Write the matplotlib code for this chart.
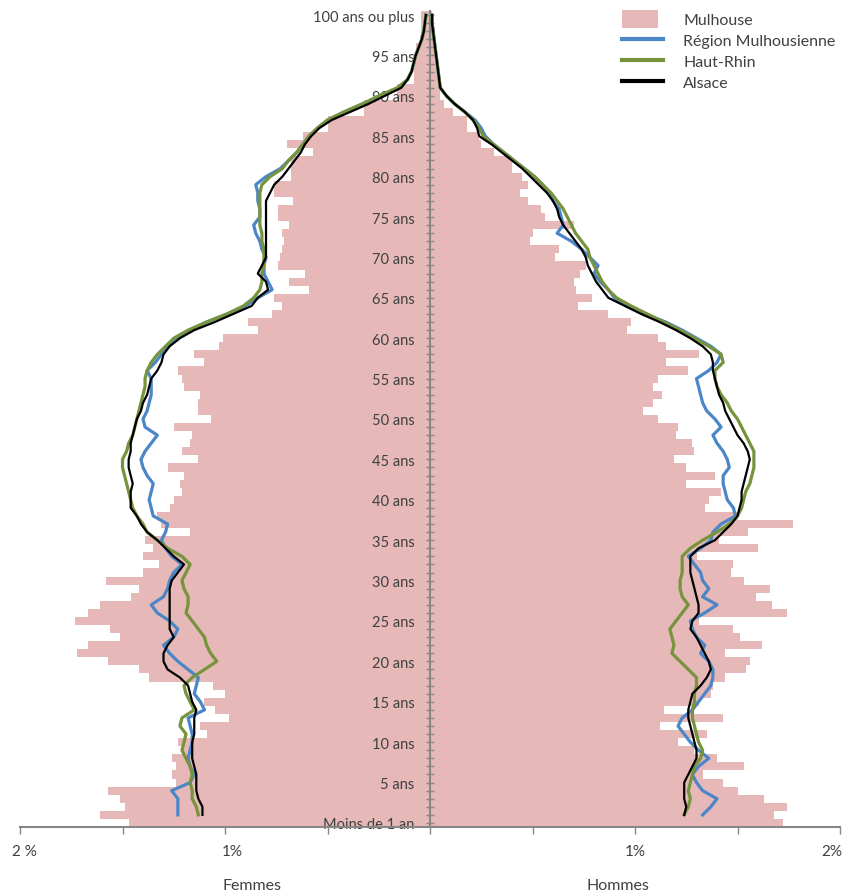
import matplotlib
matplotlib.use("Agg")
import matplotlib.pyplot as plt
from matplotlib.patches import Patch, Rectangle
from matplotlib.lines import Line2D
from matplotlib.legend_handler import HandlerPatch
import numpy as np

# ---------------- data (percent of population by single year of age) ----------------
ages_bars = list(range(0, 101))          # 0 .. 100 (100 = "100 ans ou plus")
ages_lines = list(range(1, 101))         # lines drawn for ages 1 .. 100

# Mulhouse - women (bars, ages 0..100)
mulhouse_f = [1.47, 1.61, 1.49, 1.51, 1.57, 1.24, 1.26, 1.24, 1.26, 1.21,
              1.23, 1.09, 1.12, 0.98, 1.05, 1.10, 1.00, 1.06, 1.37, 1.42,
              1.57, 1.72, 1.67, 1.51, 1.56, 1.73, 1.67, 1.61, 1.46, 1.42,
              1.58, 1.40, 1.32, 1.40, 1.35, 1.39, 1.17, 1.31, 1.33, 1.27,
              1.25, 1.21, 1.22, 1.20, 1.28, 1.13, 1.21, 1.17, 1.16, 1.25,
              1.07, 1.13, 1.13, 1.12, 1.20, 1.21, 1.23, 1.10, 1.15, 1.03,
              1.01, 0.84, 0.89, 0.77, 0.72, 0.76, 0.59, 0.69, 0.61, 0.74,
              0.73, 0.72, 0.71, 0.72, 0.69, 0.74, 0.74, 0.67, 0.76, 0.76,
              0.68, 0.68, 0.68, 0.57, 0.70, 0.62, 0.50, 0.50, 0.32, 0.32,
              0.16, 0.16, 0.08, 0.08, 0.075, 0.075, 0.07, 0.05, 0.045, 0.045,
              0.045]

# Mulhouse - men (bars, ages 0..100)
mulhouse_h = [1.72, 1.68, 1.74, 1.63, 1.50, 1.43, 1.33, 1.53, 1.40, 1.29,
              1.21, 1.35, 1.12, 1.43, 1.14, 1.31, 1.37, 1.38, 1.44, 1.54,
              1.56, 1.44, 1.62, 1.51, 1.48, 1.31, 1.74, 1.67, 1.59, 1.66,
              1.53, 1.47, 1.48, 1.30, 1.60, 1.41, 1.55, 1.77, 1.50, 1.34,
              1.36, 1.42, 1.25, 1.39, 1.25, 1.19, 1.29, 1.28, 1.20, 1.21,
              1.11, 1.04, 1.09, 1.13, 1.09, 1.11, 1.26, 1.15, 1.31, 1.15,
              1.11, 0.96, 0.98, 0.87, 0.72, 0.79, 0.71, 0.70, 0.73, 0.76,
              0.61, 0.63, 0.49, 0.50, 0.70, 0.56, 0.54, 0.48, 0.44, 0.48,
              0.45, 0.40, 0.40, 0.31, 0.25, 0.24, 0.18, 0.18, 0.11, 0.07,
              0.05, 0.05, 0.05, 0.035, 0.035, 0.03, 0.03, 0.025, 0.025, 0.02,
              0.01]

# Région Mulhousienne (lines, ages 1..100)
region_f = [1.23, 1.23, 1.23, 1.26, 1.17, 1.15, 1.17, 1.18, 1.17, 1.16,
            1.16, 1.17, 1.18, 1.10, 1.12, 1.15, 1.14, 1.13, 1.18, 1.23,
            1.27, 1.30, 1.25, 1.23, 1.27, 1.33, 1.36, 1.30, 1.28, 1.27,
            1.25, 1.21, 1.26, 1.29, 1.31, 1.29, 1.28, 1.35, 1.36, 1.37,
            1.36, 1.35, 1.38, 1.40, 1.41, 1.39, 1.36, 1.33, 1.39, 1.40,
            1.38, 1.37, 1.36, 1.36, 1.36, 1.38, 1.34, 1.31, 1.28, 1.24,
            1.17, 1.09, 0.99, 0.90, 0.84, 0.77, 0.79, 0.81, 0.81, 0.80,
            0.82, 0.83, 0.85, 0.86, 0.83, 0.83, 0.84, 0.84, 0.85, 0.80,
            0.73, 0.69, 0.65, 0.62, 0.59, 0.55, 0.50, 0.42, 0.33, 0.24,
            0.15, 0.11, 0.09, 0.08, 0.07, 0.055, 0.04, 0.03, 0.025, 0.02]
region_h = [1.33, 1.37, 1.40, 1.33, 1.30, 1.28, 1.31, 1.36, 1.31, 1.27,
            1.24, 1.21, 1.23, 1.28, 1.31, 1.34, 1.37, 1.38, 1.38, 1.36,
            1.32, 1.34, 1.30, 1.28, 1.27, 1.34, 1.40, 1.33, 1.36, 1.33,
            1.32, 1.29, 1.26, 1.32, 1.37, 1.38, 1.42, 1.49, 1.48, 1.45,
            1.44, 1.43, 1.43, 1.46, 1.45, 1.43, 1.40, 1.38, 1.42, 1.39,
            1.35, 1.33, 1.32, 1.31, 1.30, 1.36, 1.40, 1.42, 1.37, 1.30,
            1.23, 1.15, 1.05, 0.96, 0.90, 0.87, 0.83, 0.80, 0.82, 0.78,
            0.74, 0.69, 0.62, 0.65, 0.64, 0.63, 0.60, 0.58, 0.55, 0.51,
            0.46, 0.41, 0.36, 0.31, 0.27, 0.25, 0.22, 0.17, 0.12, 0.08,
            0.05, 0.045, 0.04, 0.035, 0.03, 0.025, 0.02, 0.015, 0.01, 0.01]

# Haut-Rhin (lines, ages 1..100)
hautrhin_f = [1.13, 1.14, 1.16, 1.16, 1.17, 1.16, 1.17, 1.19, 1.21, 1.20,
              1.19, 1.22, 1.21, 1.15, 1.17, 1.19, 1.20, 1.16, 1.10, 1.04,
              1.07, 1.09, 1.10, 1.13, 1.16, 1.19, 1.18, 1.18, 1.20, 1.21,
              1.19, 1.17, 1.21, 1.28, 1.33, 1.38, 1.40, 1.43, 1.45, 1.46,
              1.47, 1.48, 1.49, 1.50, 1.50, 1.48, 1.47, 1.45, 1.44, 1.43,
              1.42, 1.41, 1.40, 1.39, 1.39, 1.38, 1.36, 1.33, 1.29, 1.25,
              1.18, 1.09, 0.99, 0.91, 0.86, 0.83, 0.82, 0.82, 0.81, 0.81,
              0.81, 0.82, 0.82, 0.83, 0.83, 0.83, 0.83, 0.83, 0.82, 0.78,
              0.72, 0.69, 0.65, 0.62, 0.59, 0.55, 0.50, 0.42, 0.33, 0.25,
              0.16, 0.11, 0.09, 0.08, 0.07, 0.055, 0.04, 0.03, 0.025, 0.02]
hautrhin_h = [1.24, 1.26, 1.27, 1.26, 1.27, 1.28, 1.29, 1.32, 1.33, 1.31,
              1.30, 1.29, 1.28, 1.28, 1.29, 1.29, 1.30, 1.30, 1.26, 1.22,
              1.18, 1.19, 1.18, 1.17, 1.20, 1.23, 1.26, 1.23, 1.22, 1.22,
              1.23, 1.23, 1.23, 1.27, 1.33, 1.40, 1.46, 1.50, 1.52, 1.53,
              1.54, 1.56, 1.57, 1.58, 1.58, 1.58, 1.56, 1.54, 1.52, 1.50,
              1.47, 1.45, 1.42, 1.40, 1.39, 1.39, 1.43, 1.42, 1.36, 1.29,
              1.22, 1.14, 1.06, 0.98, 0.91, 0.87, 0.84, 0.82, 0.80, 0.78,
              0.77, 0.74, 0.71, 0.69, 0.67, 0.65, 0.62, 0.59, 0.55, 0.51,
              0.46, 0.41, 0.36, 0.31, 0.26, 0.24, 0.21, 0.17, 0.12, 0.08,
              0.05, 0.045, 0.04, 0.035, 0.03, 0.025, 0.02, 0.015, 0.01, 0.01]

# Alsace (lines, ages 1..100)
alsace_f = [1.11, 1.11, 1.13, 1.14, 1.14, 1.14, 1.15, 1.16, 1.16, 1.16,
            1.15, 1.15, 1.15, 1.14, 1.16, 1.17, 1.18, 1.22, 1.28, 1.30,
            1.30, 1.28, 1.25, 1.27, 1.27, 1.27, 1.27, 1.27, 1.27, 1.26,
            1.23, 1.20, 1.25, 1.29, 1.33, 1.38, 1.41, 1.43, 1.46, 1.46,
            1.46, 1.45, 1.46, 1.47, 1.47, 1.46, 1.46, 1.45, 1.44, 1.43,
            1.41, 1.40, 1.38, 1.37, 1.36, 1.33, 1.31, 1.30, 1.27, 1.22,
            1.15, 1.05, 0.96, 0.87, 0.84, 0.79, 0.80, 0.84, 0.82, 0.80,
            0.80, 0.80, 0.80, 0.80, 0.80, 0.80, 0.80, 0.78, 0.76, 0.72,
            0.69, 0.66, 0.63, 0.61, 0.58, 0.54, 0.48, 0.39, 0.30, 0.22,
            0.14, 0.11, 0.09, 0.08, 0.07, 0.055, 0.04, 0.03, 0.025, 0.02]
alsace_h = [1.24, 1.25, 1.24, 1.24, 1.24, 1.26, 1.28, 1.30, 1.30, 1.29,
            1.28, 1.27, 1.26, 1.26, 1.27, 1.28, 1.32, 1.35, 1.37, 1.36,
            1.34, 1.32, 1.30, 1.27, 1.28, 1.31, 1.31, 1.30, 1.29, 1.28,
            1.27, 1.27, 1.27, 1.31, 1.39, 1.43, 1.47, 1.50, 1.51, 1.52,
            1.52, 1.53, 1.54, 1.55, 1.56, 1.55, 1.53, 1.50, 1.48, 1.46,
            1.44, 1.43, 1.41, 1.40, 1.39, 1.38, 1.38, 1.37, 1.33, 1.27,
            1.20, 1.12, 1.03, 0.95, 0.87, 0.84, 0.81, 0.79, 0.77, 0.76,
            0.74, 0.71, 0.68, 0.65, 0.63, 0.62, 0.60, 0.57, 0.53, 0.49,
            0.45, 0.40, 0.35, 0.30, 0.24, 0.23, 0.21, 0.17, 0.12, 0.08,
            0.05, 0.045, 0.04, 0.035, 0.03, 0.025, 0.02, 0.015, 0.01, 0.01]

age_tick_labels = {0: "Moins de 1 an", 100: "100 ans ou plus"}
x_tick_values = [-2, -1, 1, 2]
x_tick_texts = ["2 %", "1%", "1%", "2%"]
legend_labels = ["Mulhouse", "Région Mulhousienne", "Haut-Rhin", "Alsace"]

# ---------------- styling ----------------
FONT = "Lato"
PINK = "#E6B9B8"
BLUE = "#4A86C8"
GREEN = "#77933C"
BLACK = "#000000"
GREY = "#868686"
TXT = "#404040"

W, H = 844, 895
fig = plt.figure(figsize=(W / 100, H / 100), dpi=100)
ax = fig.add_axes([20 / W, (H - 828) / H, 820 / W, 816 / H])

ax.barh(ages_bars, [-v for v in mulhouse_f], height=1.0, color=PINK, linewidth=0, zorder=1)
ax.barh(ages_bars, mulhouse_h, height=1.0, color=PINK, linewidth=0, zorder=1)

ax.plot([-v for v in region_f], ages_lines, color=BLUE, lw=2.3, zorder=3, solid_joinstyle="round")
ax.plot(region_h, ages_lines, color=BLUE, lw=2.3, zorder=3, solid_joinstyle="round")
ax.plot([-v for v in hautrhin_f], ages_lines, color=GREEN, lw=2.3, zorder=3.1, solid_joinstyle="round")
ax.plot(hautrhin_h, ages_lines, color=GREEN, lw=2.3, zorder=3.1, solid_joinstyle="round")
ax.plot([-v for v in alsace_f], ages_lines, color=BLACK, lw=1.6, zorder=3.2, solid_joinstyle="round")
ax.plot(alsace_h, ages_lines, color=BLACK, lw=1.6, zorder=3.2, solid_joinstyle="round")

ax.set_xlim(-2, 2)
ax.set_ylim(-0.5, 100.5)

# central age axis
for s in ["top", "right"]:
    ax.spines[s].set_visible(False)
ax.spines["left"].set_position(("data", 0))
ax.spines["left"].set_color(GREY)
ax.spines["left"].set_linewidth(1.5)
ax.spines["left"].set_zorder(2.5)
ax.spines["bottom"].set_color(GREY)
ax.spines["bottom"].set_linewidth(1.5)

yt = list(range(0, 101))
ylabels = []
for a in yt:
    if a in age_tick_labels:
        ylabels.append(age_tick_labels[a])
    elif a % 5 == 0:
        ylabels.append(f"{a} ans")
    else:
        ylabels.append("")
ax.set_yticks(yt)
ax.set_yticklabels(ylabels, fontsize=10.5, color=TXT, family=FONT)
ax.tick_params(axis="y", direction="inout", length=6, width=1, color=GREY, pad=8)

# bottom axis
ax.set_xticks(np.arange(-2, 2.01, 0.5))
ax.set_xticklabels([])
ax.tick_params(axis="x", direction="out", length=5, width=1, color=GREY)
for v, t in zip(x_tick_values, x_tick_texts):
    ha = "center"
    dx = 0
    if v == -2:
        dx = 4
    if v == 2:
        ha = "right"
        dx = 2
    if v == -1:
        dx = 7
    ax.annotate(t, xy=(v, 0), xycoords=("data", "axes fraction"),
                xytext=(dx, -24), textcoords="offset pixels",
                ha=ha, va="center", fontsize=11, color=TXT, family=FONT)

fig.text(252 / W, 1 - 886 / H, "Femmes", ha="center", va="center", fontsize=11.5, color=TXT, family=FONT)
fig.text(618 / W, 1 - 886 / H, "Hommes", ha="center", va="center", fontsize=11.5, color=TXT, family=FONT)


def pink_box(legend, orig_handle, xdescent, ydescent, width, height, fontsize):
    return Rectangle((-xdescent, -ydescent - 0.15 * height), width * 0.88, height * 1.3)


handles = [Patch(facecolor=PINK, edgecolor="none"),
           Line2D([], [], color=BLUE, lw=3),
           Line2D([], [], color=GREEN, lw=3),
           Line2D([], [], color=BLACK, lw=3)]
leg = fig.legend(handles, legend_labels, loc="upper left", bbox_to_anchor=(609 / W, 1 - 0.5 / H),
                 frameon=False, prop={"family": FONT, "size": 11.5},
                 handlelength=2.6, handleheight=0.9, handletextpad=1.25, labelspacing=0.35,
                 borderpad=0.3, handler_map={Patch: HandlerPatch(patch_func=pink_box)})
for t in leg.get_texts():
    t.set_color(TXT)

fig.savefig("out.png", dpi=100)
